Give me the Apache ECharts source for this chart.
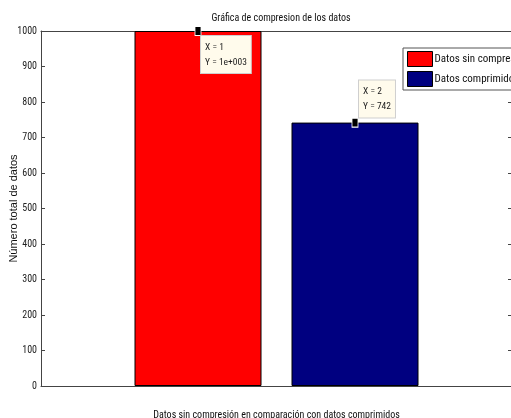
<!DOCTYPE html>
<html>
<head>
<meta charset="utf-8">
<script src="https://cdn.jsdelivr.net/npm/echarts@6/dist/echarts.min.js"></script>
<style>
  html, body { margin: 0; padding: 0; background: #fff; }
  #chart { width: 511px; height: 418px; }
</style>
</head>
<body>
<div id="chart"></div>
<script>
// Bar positions on the x scale and their values
const positions = [1, 2];
const values = [1000, 742];
const seriesNames = ['Datos sin compresión', 'Datos comprimidos'];
const barColors = ['#ff0000', '#000080'];
const yTicks = [0, 100, 200, 300, 400, 500, 600, 700, 800, 900, 1000];

const NARROW = '"Roboto Condensed", "Liberation Sans", sans-serif';

// Number display used by the data tips (exponent padded to three digits)
function tipNumber(v) {
  if (Math.abs(v) >= 1000) {
    const s = v.toExponential();
    const m = s.match(/^(.*)e([+-])(\d+)$/);
    return m[1] + 'e' + m[2] + m[3].padStart(3, '0');
  }
  return String(v);
}

const chart = echarts.init(document.getElementById('chart'), null, { renderer: 'canvas' });

const barSeries = seriesNames.map((name, i) => ({
  name: name,
  type: 'bar',
  xAxisIndex: 0,
  yAxisIndex: 0,
  barWidth: 127,
  barGap: '-100%',
  data: [[positions[i], values[i]]],
  itemStyle: { color: barColors[i], borderColor: '#000', borderWidth: 1, opacity: 1 },
  emphasis: { disabled: true },
  silent: true
}));

// Data tip markers with their text boxes
const tipLayouts = [
  { position: 'bottom', verticalAlign: 'top', offset: [3, 0] },
  { position: 'top', verticalAlign: 'bottom', offset: [4, 0] }
];
const tipSeries = {
  type: 'scatter',
  xAxisIndex: 0,
  yAxisIndex: 0,
  symbol: 'rect',
  symbolSize: [6, 9],
  z: 10,
  silent: true,
  itemStyle: { color: '#000', borderColor: '#fff', borderWidth: 1, opacity: 1 },
  data: positions.map((p, i) => ({
    value: [p, values[i]],
    label: {
      show: true,
      position: tipLayouts[i].position,
      distance: 0,
      align: 'left',
      verticalAlign: tipLayouts[i].verticalAlign,
      offset: tipLayouts[i].offset,
      formatter: 'X = ' + p + '\nY = ' + tipNumber(values[i]),
      fontFamily: NARROW,
      fontSize: 9.5,
      lineHeight: 15,
      color: '#222',
      opacity: 1,
      backgroundColor: '#fffbec',
      borderColor: '#cfcfcf',
      borderWidth: 1,
      padding: [4, 4, 3, 4]
    }
  }))
};

chart.setOption({
  animation: false,
  backgroundColor: '#fff',
  title: {
    text: 'Gráfica de compresion de los datos',
    left: 276,
    textAlign: 'center',
    top: 8,
    textStyle: { fontFamily: NARROW, fontSize: 10, fontWeight: 'normal', color: '#111' }
  },
  legend: {
    orient: 'vertical',
    left: 403,
    top: 48,
    data: seriesNames,
    icon: 'rect',
    itemWidth: 25,
    itemHeight: 15,
    itemGap: 4,
    padding: [3, 6, 3, 4],
    borderColor: '#555',
    borderWidth: 1,
    borderRadius: 0,
    backgroundColor: '#fff',
    selectedMode: false,
    itemStyle: { borderColor: '#000', borderWidth: 1 },
    textStyle: { fontFamily: NARROW, fontSize: 11, color: '#111', padding: [0, 0, 0, -3] }
  },
  grid: { left: 41, top: 31, width: 471, height: 355, outerBoundsMode: 'none', containLabel: false },
  xAxis: [
    {
      type: 'value', position: 'bottom', min: 0, max: 3,
      axisLine: { show: true, onZero: false, lineStyle: { color: '#444', width: 1 } },
      axisTick: { show: false }, axisLabel: { show: false }, splitLine: { show: false },
      name: 'Datos sin compresión en comparación con datos comprimidos',
      nameLocation: 'middle', nameGap: 24, nameMoveOverlap: false,
      nameTextStyle: { fontFamily: NARROW, fontSize: 10, color: '#111' }
    },
    {
      type: 'value', position: 'top', min: 0, max: 3,
      axisLine: { show: true, onZero: false, lineStyle: { color: '#444', width: 1 } },
      axisTick: { show: false }, axisLabel: { show: false }, splitLine: { show: false }
    }
  ],
  yAxis: [
    {
      type: 'value', position: 'left', min: 0, max: 1000, interval: 100,
      axisLine: { show: true, onZero: false, lineStyle: { color: '#444', width: 1 } },
      axisTick: { show: true, inside: true, length: 4, lineStyle: { color: '#444' } },
      axisLabel: {
        fontFamily: NARROW, fontSize: 10, color: '#222', margin: 4,
        formatter: v => yTicks.includes(v) ? String(v) : ''
      },
      splitLine: { show: false },
      name: 'Número total de datos',
      nameLocation: 'middle', nameGap: 22, nameRotate: 90, nameMoveOverlap: false,
      nameTextStyle: { fontFamily: '"Liberation Sans", Arial, sans-serif', fontSize: 11, color: '#111' }
    },
    {
      type: 'value', position: 'right', min: 0, max: 1000, interval: 100,
      axisLine: { show: true, onZero: false, lineStyle: { color: '#444', width: 1 } },
      axisTick: { show: true, inside: true, length: 4, lineStyle: { color: '#444' } },
      axisLabel: { show: false }, splitLine: { show: false }
    }
  ],
  series: [...barSeries, tipSeries]
});
</script>
</body>
</html>
